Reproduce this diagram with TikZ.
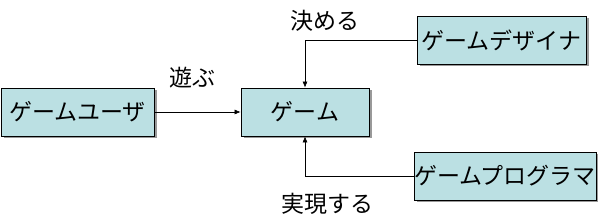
\documentclass[tikz,border=0pt]{standalone}
\usepackage{fontspec}
\setmainfont{Noto Sans CJK JP}
\usetikzlibrary{arrows.meta,shadows}
\definecolor{boxfill}{HTML}{BBE0E3}
\tikzset{
  actor/.style={draw=black, line width=0.8pt, fill=boxfill, minimum height=48pt, inner sep=0pt,
    font=\fontsize{23pt}{27pt}\selectfont,
    drop shadow={shadow xshift=2.5pt, shadow yshift=-2.5pt, fill=gray!80, opacity=1}},
  conn/.style={draw=black, line width=0.6pt, -{Latex[length=6pt,width=5pt]}},
  lbl/.style={font=\fontsize{23pt}{27pt}\selectfont, inner sep=0pt}
}
\begin{document}
\begin{tikzpicture}[x=1pt,y=1pt]
\useasboundingbox (0,0) rectangle (601,221);
\node[actor, minimum width=153pt] (user) at (77.5,109) {ゲームユーザ};
\node[actor, minimum width=128pt] (game) at (305,109) {ゲーム};
\node[actor, minimum width=169pt] (designer) at (501.5,181) {ゲームデザイナ};
\node[actor, minimum width=176pt] (programmer) at (505,45) {ゲームプログラマ};
\draw[conn] (user.east) -- (game.west);
\draw[conn] (designer.west) -| (game.north);
\draw[conn] (programmer.west) -| (game.south);
\node[lbl] (l1) at (192,143) {遊ぶ};
\node[lbl] (l2) at (325,200) {決める};
\node[lbl] (l3) at (327,17) {実現する};
\end{tikzpicture}
\end{document}
